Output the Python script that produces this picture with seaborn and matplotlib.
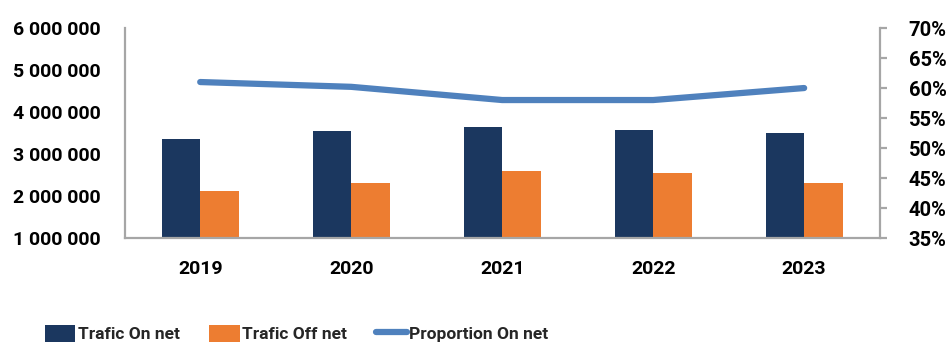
import numpy as np
import pandas as pd
import matplotlib
matplotlib.use("Agg")
import matplotlib.pyplot as plt
import seaborn as sns
from matplotlib.patches import Patch
from matplotlib.lines import Line2D
from matplotlib.ticker import FuncFormatter

years = ["2019", "2020", "2021", "2022", "2023"]
trafic_on_net = [3360000, 3550000, 3640000, 3570000, 3500000]
trafic_off_net = [2120000, 2320000, 2600000, 2550000, 2310000]
proportion_on_net = [0.61, 0.602, 0.58, 0.58, 0.60]

series_names = ["Trafic On net", "Trafic Off net"]
line_name = "Proportion On net"
left_ticks = [1000000, 2000000, 3000000, 4000000, 5000000, 6000000]
right_ticks = [0.35, 0.40, 0.45, 0.50, 0.55, 0.60, 0.65, 0.70]

navy = "#1B375F"
orange = "#ED7D31"
blue = "#4F81BD"
spine_gray = "#A6A6A6"

sns.set_theme(style="white")
plt.rcParams["font.family"] = ["Roboto", "DejaVu Sans"]

df = pd.DataFrame({
    "year": years * 2,
    "value": trafic_on_net + trafic_off_net,
    "series": [series_names[0]] * len(years) + [series_names[1]] * len(years),
})

fig = plt.figure(figsize=(9.52, 3.46), dpi=100)
ax = fig.add_axes([0.131, 0.312, 0.793, 0.607])

sns.barplot(data=df, x="year", y="value", hue="series", order=years,
            hue_order=series_names, palette=[navy, orange], width=0.51,
            saturation=1, linewidth=0, legend=False, ax=ax)

ax.set_xlim(-0.5, len(years) - 0.5)
ax.set_ylim(left_ticks[0], left_ticks[-1])
ax.set_yticks(left_ticks)
ax.yaxis.set_major_formatter(FuncFormatter(lambda v, p: f"{int(v):,}".replace(",", " ")))
ax.set_xlabel("")
ax.set_ylabel("")
for side in ["top", "right"]:
    ax.spines[side].set_visible(False)
for side in ["left", "bottom"]:
    ax.spines[side].set_color(spine_gray)
    ax.spines[side].set_linewidth(1.6)
ax.tick_params(axis="y", length=0, pad=17, labelsize=14)
ax.tick_params(axis="x", length=0, pad=16, labelsize=14)

ax2 = ax.twinx()
sns.lineplot(x=np.arange(len(years)), y=proportion_on_net, color=blue,
             linewidth=4.5, solid_capstyle="round", ax=ax2)
ax2.set_ylim(right_ticks[0], right_ticks[-1])
ax2.set_yticks(right_ticks)
ax2.yaxis.set_major_formatter(FuncFormatter(lambda v, p: f"{v*100:.0f}%"))
for side in ["top", "left", "bottom"]:
    ax2.spines[side].set_visible(False)
ax2.spines["right"].set_color(spine_gray)
ax2.spines["right"].set_linewidth(1.6)
ax2.tick_params(axis="y", length=5, width=1.6, color=spine_gray, pad=16, labelsize=14.5)
ax2.set_ylabel("")

for lbl in ax.get_xticklabels() + ax.get_yticklabels() + ax2.get_yticklabels():
    lbl.set_fontweight("bold")
    lbl.set_color("black")

handles = [
    Patch(facecolor=navy, edgecolor="none"),
    Patch(facecolor=orange, edgecolor="none"),
    Line2D([0], [0], color=blue, linewidth=4.5, solid_capstyle="round"),
]
fig.legend(handles, series_names + [line_name], loc="center left", ncol=3,
           bbox_to_anchor=(0.047, 0.036), frameon=False, borderpad=0,
           borderaxespad=0, handlelength=1.75, handleheight=1.1,
           handletextpad=0.15, columnspacing=1.7,
           prop={"family": ["Roboto", "DejaVu Sans"], "weight": "bold", "size": 12.5})

fig.savefig("out.png", dpi=100)
